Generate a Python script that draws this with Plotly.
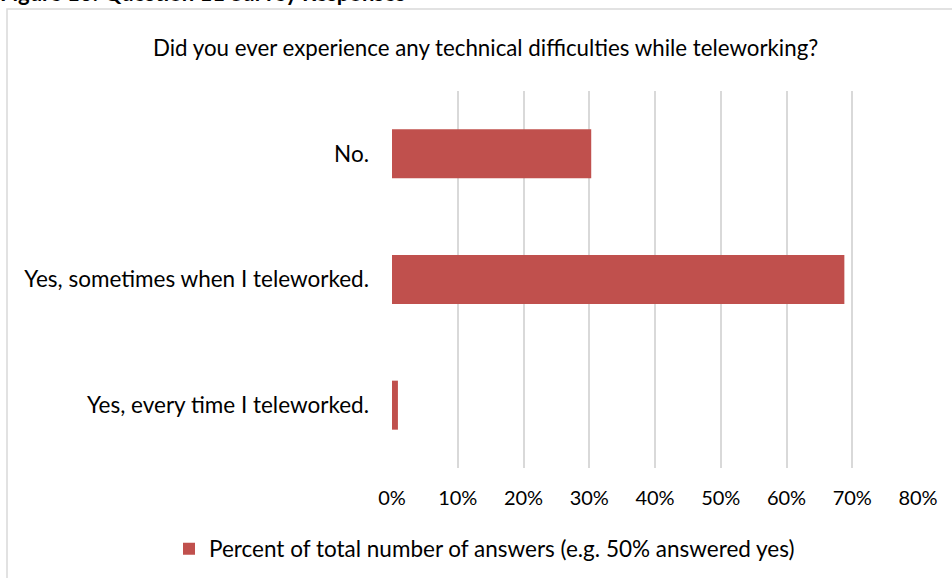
import plotly.graph_objects as go

categories = ["Yes, every time I teleworked.", "Yes, sometimes when I teleworked.", "No."]
values = [0.9, 68.8, 30.3]
series_name = "Percent of total number of answers (e.g. 50% answered yes)"
title_text = "Did you ever experience any technical difficulties while teleworking?"
header_text = "Figure 13: Question 11 Survey Responses"
tick_vals = [0, 10, 20, 30, 40, 50, 60, 70, 80]
tick_text = ["0%", "10%", "20%", "30%", "40%", "50%", "60%", "70%", "80%"]

FONT = "Lato"
W, H = 952, 578
L, R, T, B = 392, 34, 91, 110
pw, ph = W - L - R, H - T - B

def px_x(p):
    return (p - L) / pw

def px_y(p):
    return (H - B - p) / ph

fig = go.Figure()
fig.add_trace(go.Bar(
    y=categories, x=values, orientation="h", name=series_name,
    marker=dict(color="#c0504d", line=dict(width=0)),
    width=0.39, showlegend=True,
))

fig.update_layout(
    width=W, height=H,
    margin=dict(l=L, r=R, t=T, b=B, autoexpand=False),
    paper_bgcolor="white", plot_bgcolor="white",
    font=dict(family=FONT, size=22, color="#000000"),
    xaxis=dict(range=[0, 80], tickvals=tick_vals, ticktext=tick_text,
               showgrid=True, gridcolor="#d9d9d9", gridwidth=1.5,
               zeroline=False, showline=False, ticks="",
               ticklabelstandoff=16, tickfont=dict(size=20, family=FONT)),
    yaxis=dict(categoryorder="array", categoryarray=categories,
               showgrid=False, zeroline=False, showline=False, ticks="",
               ticklabelstandoff=22, tickfont=dict(size=22.5, family=FONT)),
    legend=dict(orientation="h", x=px_x(169), y=px_y(549), xref="paper", yref="paper",
                xanchor="left", yanchor="middle",
                font=dict(size=22.5, family=FONT), bgcolor="rgba(0,0,0,0)",
                itemwidth=30),
    annotations=[
        dict(text=title_text, xref="paper", yref="paper",
             x=px_x(485), y=px_y(47), xanchor="center", yanchor="middle",
             showarrow=False, font=dict(size=22.3, family=FONT)),
        dict(text="<b>" + header_text + "</b>", xref="paper", yref="paper",
             x=px_x(-2), y=px_y(-7), xanchor="left", yanchor="middle",
             showarrow=False, font=dict(size=22, family=FONT)),
    ],
    shapes=[
        dict(type="rect", xref="paper", yref="paper",
             x0=px_x(7), x1=px_x(990), y0=px_y(9), y1=px_y(620),
             line=dict(color="#d9d9d9", width=1.5), fillcolor="rgba(0,0,0,0)", layer="below"),
    ],
)

fig.write_html("out.html", config={"displayModeBar": False},
               post_script="document.body.style.margin='0';document.body.style.padding='0';")
